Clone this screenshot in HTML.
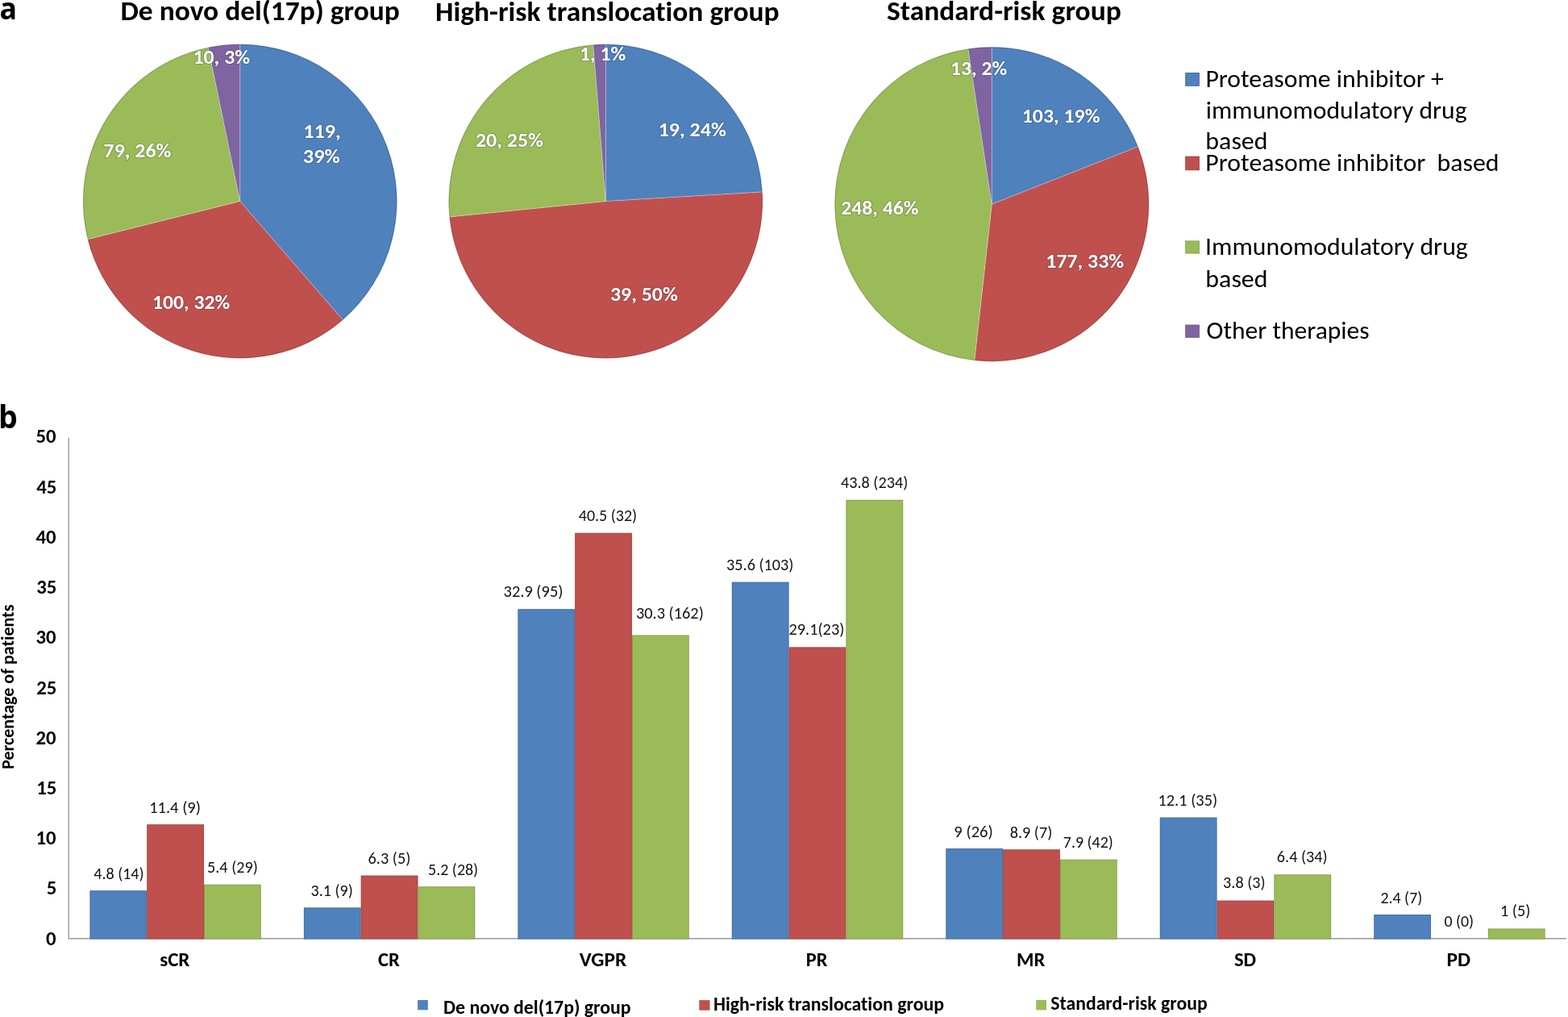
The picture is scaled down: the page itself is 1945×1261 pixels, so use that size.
<!DOCTYPE html>
<html><head><meta charset="utf-8"><title>Figure</title>
<style>
html,body{margin:0;padding:0;background:#fff;}
body{width:1945px;height:1261px;overflow:hidden;}
svg{display:block;font-family:Carlito, Calibri, "Liberation Sans", Arial, sans-serif;}
text{white-space:pre;font-variant-ligatures:none;font-feature-settings:"liga" 0,"clig" 0,"dlig" 0;}
</style></head>
<body>
<svg width="1945" height="1261" viewBox="0 0 1945 1261">
<rect width="1945" height="1261" fill="#fff"/>
<text font-family="'Open Sans', 'Liberation Sans', Arial, sans-serif" transform="translate(-0.53 24.22) scale(0.934 1)" font-size="38.23" font-weight="bold">a</text>
<text font-family="'Open Sans', 'Liberation Sans', Arial, sans-serif" transform="translate(-2.01 530.81) scale(0.966 1)" font-size="38.96" font-weight="bold">b</text>
<text transform="translate(149.45 25.15) scale(1.0613 1)" font-size="33.4" font-weight="bold" fill="#000" textLength="326.39" lengthAdjust="spacingAndGlyphs">De novo del(17p) group</text>
<text transform="translate(540.05 25.60) scale(1.0635 1)" font-size="33.4" font-weight="bold" fill="#000" textLength="401.13" lengthAdjust="spacingAndGlyphs">High-risk translocation group</text>
<text transform="translate(1099.99 24.50) scale(1.063 1)" font-size="33.4" font-weight="bold" fill="#000" textLength="273.56" lengthAdjust="spacingAndGlyphs">Standard-risk group</text>
<path d="M297.70,249.50 L297.70,54.70 A194.8,194.8 0 0 1 425.27,396.72 Z" fill="#4F81BD" stroke="#ffffff" stroke-opacity="0.28" stroke-width="0.9" stroke-linejoin="round"/>
<path d="M297.70,249.50 L425.27,396.72 A194.8,194.8 0 0 1 108.71,296.71 Z" fill="#C0504D" stroke="#ffffff" stroke-opacity="0.28" stroke-width="0.9" stroke-linejoin="round"/>
<path d="M297.70,249.50 L108.71,296.71 A194.8,194.8 0 0 1 258.24,58.74 Z" fill="#9BBB59" stroke="#ffffff" stroke-opacity="0.28" stroke-width="0.9" stroke-linejoin="round"/>
<path d="M297.70,249.50 L258.24,58.74 A194.8,194.8 0 0 1 297.70,54.70 Z" fill="#8064A2" stroke="#ffffff" stroke-opacity="0.28" stroke-width="0.9" stroke-linejoin="round"/>
<circle cx="297.7" cy="249.5" r="194.20000000000002" fill="none" stroke="#000" stroke-opacity="0.16" stroke-width="1.2"/>
<path d="M751.30,249.60 L751.30,54.80 A194.8,194.8 0 0 1 945.75,237.99 Z" fill="#4F81BD" stroke="#ffffff" stroke-opacity="0.28" stroke-width="0.9" stroke-linejoin="round"/>
<path d="M751.30,249.60 L945.75,237.99 A194.8,194.8 0 0 1 557.46,268.93 Z" fill="#C0504D" stroke="#ffffff" stroke-opacity="0.28" stroke-width="0.9" stroke-linejoin="round"/>
<path d="M751.30,249.60 L557.46,268.93 A194.8,194.8 0 0 1 735.82,55.42 Z" fill="#9BBB59" stroke="#ffffff" stroke-opacity="0.28" stroke-width="0.9" stroke-linejoin="round"/>
<path d="M751.30,249.60 L735.82,55.42 A194.8,194.8 0 0 1 751.30,54.80 Z" fill="#8064A2" stroke="#ffffff" stroke-opacity="0.28" stroke-width="0.9" stroke-linejoin="round"/>
<circle cx="751.3" cy="249.6" r="194.20000000000002" fill="none" stroke="#000" stroke-opacity="0.16" stroke-width="1.2"/>
<path d="M1230.25,253.20 L1230.25,58.20 A195.0,195.0 0 0 1 1411.73,181.86 Z" fill="#4F81BD" stroke="#ffffff" stroke-opacity="0.28" stroke-width="0.9" stroke-linejoin="round"/>
<path d="M1230.25,253.20 L1411.73,181.86 A195.0,195.0 0 0 1 1208.78,447.01 Z" fill="#C0504D" stroke="#ffffff" stroke-opacity="0.28" stroke-width="0.9" stroke-linejoin="round"/>
<path d="M1230.25,253.20 L1208.78,447.01 A195.0,195.0 0 0 1 1200.92,60.42 Z" fill="#9BBB59" stroke="#ffffff" stroke-opacity="0.28" stroke-width="0.9" stroke-linejoin="round"/>
<path d="M1230.25,253.20 L1200.92,60.42 A195.0,195.0 0 0 1 1230.25,58.20 Z" fill="#8064A2" stroke="#ffffff" stroke-opacity="0.28" stroke-width="0.9" stroke-linejoin="round"/>
<circle cx="1230.25" cy="253.2" r="194.4" fill="none" stroke="#000" stroke-opacity="0.16" stroke-width="1.2"/>
<text transform="translate(376.16 170.50) scale(1.0574 1)" font-size="24.8" font-weight="bold" fill="#fff" textLength="44.10" lengthAdjust="spacingAndGlyphs" stroke="#1e2a40" stroke-opacity="0.22" stroke-width="2.2" paint-order="stroke" stroke-linejoin="round">119,</text>
<text transform="translate(375.85 201.60) scale(1.0609 1)" font-size="24.8" font-weight="bold" fill="#fff" textLength="43.22" lengthAdjust="spacingAndGlyphs" stroke="#1e2a40" stroke-opacity="0.22" stroke-width="2.2" paint-order="stroke" stroke-linejoin="round">39%</text>
<text transform="translate(189.00 383.40) scale(1.0362 1)" font-size="24.8" font-weight="bold" fill="#fff" textLength="92.93" lengthAdjust="spacingAndGlyphs" stroke="#1e2a40" stroke-opacity="0.22" stroke-width="2.2" paint-order="stroke" stroke-linejoin="round">100, 32%</text>
<text transform="translate(128.56 194.70) scale(1.0427 1)" font-size="24.8" font-weight="bold" fill="#fff" textLength="80.36" lengthAdjust="spacingAndGlyphs" stroke="#1e2a40" stroke-opacity="0.22" stroke-width="2.2" paint-order="stroke" stroke-linejoin="round">79, 26%</text>
<text transform="translate(239.39 79.00) scale(1.0432 1)" font-size="24.8" font-weight="bold" fill="#fff" textLength="67.79" lengthAdjust="spacingAndGlyphs" stroke="#1e2a40" stroke-opacity="0.22" stroke-width="2.2" paint-order="stroke" stroke-linejoin="round">10, 3%</text>
<text transform="translate(816.68 168.50) scale(1.0475 1)" font-size="24.8" font-weight="bold" fill="#fff" textLength="80.36" lengthAdjust="spacingAndGlyphs" stroke="#1e2a40" stroke-opacity="0.22" stroke-width="2.2" paint-order="stroke" stroke-linejoin="round">19, 24%</text>
<text transform="translate(756.97 372.70) scale(1.0439 1)" font-size="24.8" font-weight="bold" fill="#fff" textLength="80.36" lengthAdjust="spacingAndGlyphs" stroke="#1e2a40" stroke-opacity="0.22" stroke-width="2.2" paint-order="stroke" stroke-linejoin="round">39, 50%</text>
<text transform="translate(589.89 181.70) scale(1.0461 1)" font-size="24.8" font-weight="bold" fill="#fff" textLength="80.36" lengthAdjust="spacingAndGlyphs" stroke="#1e2a40" stroke-opacity="0.22" stroke-width="2.2" paint-order="stroke" stroke-linejoin="round">20, 25%</text>
<text transform="translate(719.00 74.60) scale(1.0393 1)" font-size="24.8" font-weight="bold" fill="#fff" textLength="55.22" lengthAdjust="spacingAndGlyphs" stroke="#1e2a40" stroke-opacity="0.22" stroke-width="2.2" paint-order="stroke" stroke-linejoin="round">1, 1%</text>
<text transform="translate(1267.79 152.40) scale(1.0407 1)" font-size="24.8" font-weight="bold" fill="#fff" textLength="92.93" lengthAdjust="spacingAndGlyphs" stroke="#1e2a40" stroke-opacity="0.22" stroke-width="2.2" paint-order="stroke" stroke-linejoin="round">103, 19%</text>
<text transform="translate(1297.29 331.60) scale(1.0429 1)" font-size="24.8" font-weight="bold" fill="#fff" textLength="92.93" lengthAdjust="spacingAndGlyphs" stroke="#1e2a40" stroke-opacity="0.22" stroke-width="2.2" paint-order="stroke" stroke-linejoin="round">177, 33%</text>
<text transform="translate(1043.20 266.30) scale(1.0362 1)" font-size="24.8" font-weight="bold" fill="#fff" textLength="92.93" lengthAdjust="spacingAndGlyphs" stroke="#1e2a40" stroke-opacity="0.22" stroke-width="2.2" paint-order="stroke" stroke-linejoin="round">248, 46%</text>
<text transform="translate(1178.90 92.60) scale(1.0371 1)" font-size="24.8" font-weight="bold" fill="#fff" textLength="67.79" lengthAdjust="spacingAndGlyphs" stroke="#1e2a40" stroke-opacity="0.22" stroke-width="2.2" paint-order="stroke" stroke-linejoin="round">13, 2%</text>
<rect x="1470.2" y="90.0" width="17.7" height="16.9" fill="#4F81BD"/>
<rect x="1470.7" y="90.5" width="16.7" height="15.9" fill="none" stroke="#000" stroke-opacity="0.12" stroke-width="1"/>
<rect x="1470.2" y="193.7" width="17.7" height="17.5" fill="#C0504D"/>
<rect x="1470.7" y="194.2" width="16.7" height="16.5" fill="none" stroke="#000" stroke-opacity="0.12" stroke-width="1"/>
<rect x="1470.2" y="298.4" width="17.7" height="16.1" fill="#9BBB59"/>
<rect x="1470.7" y="298.9" width="16.7" height="15.1" fill="none" stroke="#000" stroke-opacity="0.12" stroke-width="1"/>
<rect x="1470.2" y="402.6" width="17.7" height="16.2" fill="#8064A2"/>
<rect x="1470.7" y="403.1" width="16.7" height="15.2" fill="none" stroke="#000" stroke-opacity="0.12" stroke-width="1"/>
<text transform="translate(1495.38 107.90) scale(1.0138 1)" font-size="31.3" font-weight="normal" fill="#000" textLength="291.34" lengthAdjust="spacingAndGlyphs">Proteasome inhibitor +</text>
<text transform="translate(1495.86 146.80) scale(1.0102 1)" font-size="31.3" font-weight="normal" fill="#000" textLength="320.40" lengthAdjust="spacingAndGlyphs">immunomodulatory drug</text>
<text transform="translate(1495.37 185.10) scale(1.0187 1)" font-size="31.3" font-weight="normal" fill="#000" textLength="75.70" lengthAdjust="spacingAndGlyphs">based</text>
<text transform="translate(1495.37 212.00) scale(1.0156 1)" font-size="31.3" font-weight="normal" fill="#000" textLength="358.53" lengthAdjust="spacingAndGlyphs">Proteasome inhibitor&#160; based</text>
<text transform="translate(1495.06 316.10) scale(1.0144 1)" font-size="31.3" font-weight="normal" fill="#000" textLength="321.10" lengthAdjust="spacingAndGlyphs">Immunomodulatory drug</text>
<text transform="translate(1495.37 355.60) scale(1.0187 1)" font-size="31.3" font-weight="normal" fill="#000" textLength="75.70" lengthAdjust="spacingAndGlyphs">based</text>
<text transform="translate(1496.50 420.20) scale(1.0086 1)" font-size="31.3" font-weight="normal" fill="#000" textLength="200.43" lengthAdjust="spacingAndGlyphs">Other therapies</text>
<line x1="85.2" y1="542.8" x2="85.2" y2="1163.8" stroke="#9a9a9a" stroke-width="1.4"/>
<line x1="84.5" y1="1163.8" x2="1942.6" y2="1163.8" stroke="#9a9a9a" stroke-width="1.4"/>
<rect x="111.40" y="1104.18" width="70.8" height="60.32" fill="#4F81BD"/>
<rect x="111.90" y="1104.68" width="69.8" height="59.32" fill="none" stroke="#000" stroke-opacity="0.13" stroke-width="1"/>
<rect x="182.20" y="1022.21" width="70.8" height="142.29" fill="#C0504D"/>
<rect x="182.70" y="1022.71" width="69.8" height="141.29" fill="none" stroke="#000" stroke-opacity="0.13" stroke-width="1"/>
<rect x="253.00" y="1096.73" width="70.8" height="67.77" fill="#9BBB59"/>
<rect x="253.50" y="1097.23" width="69.8" height="66.77" fill="none" stroke="#000" stroke-opacity="0.13" stroke-width="1"/>
<rect x="376.87" y="1125.30" width="70.8" height="39.20" fill="#4F81BD"/>
<rect x="377.37" y="1125.80" width="69.8" height="38.20" fill="none" stroke="#000" stroke-opacity="0.13" stroke-width="1"/>
<rect x="447.67" y="1085.55" width="70.8" height="78.95" fill="#C0504D"/>
<rect x="448.17" y="1086.05" width="69.8" height="77.95" fill="none" stroke="#000" stroke-opacity="0.13" stroke-width="1"/>
<rect x="518.47" y="1099.22" width="70.8" height="65.28" fill="#9BBB59"/>
<rect x="518.97" y="1099.72" width="69.8" height="64.28" fill="none" stroke="#000" stroke-opacity="0.13" stroke-width="1"/>
<rect x="642.34" y="755.18" width="70.8" height="409.32" fill="#4F81BD"/>
<rect x="642.84" y="755.68" width="69.8" height="408.32" fill="none" stroke="#000" stroke-opacity="0.13" stroke-width="1"/>
<rect x="713.14" y="660.79" width="70.8" height="503.71" fill="#C0504D"/>
<rect x="713.64" y="661.29" width="69.8" height="502.71" fill="none" stroke="#000" stroke-opacity="0.13" stroke-width="1"/>
<rect x="783.94" y="787.47" width="70.8" height="377.03" fill="#9BBB59"/>
<rect x="784.44" y="787.97" width="69.8" height="376.03" fill="none" stroke="#000" stroke-opacity="0.13" stroke-width="1"/>
<rect x="907.81" y="721.65" width="70.8" height="442.85" fill="#4F81BD"/>
<rect x="908.31" y="722.15" width="69.8" height="441.85" fill="none" stroke="#000" stroke-opacity="0.13" stroke-width="1"/>
<rect x="978.61" y="802.38" width="70.8" height="362.12" fill="#C0504D"/>
<rect x="979.11" y="802.88" width="69.8" height="361.12" fill="none" stroke="#000" stroke-opacity="0.13" stroke-width="1"/>
<rect x="1049.41" y="619.80" width="70.8" height="544.70" fill="#9BBB59"/>
<rect x="1049.91" y="620.30" width="69.8" height="543.70" fill="none" stroke="#000" stroke-opacity="0.13" stroke-width="1"/>
<rect x="1173.28" y="1052.02" width="70.8" height="112.48" fill="#4F81BD"/>
<rect x="1173.78" y="1052.52" width="69.8" height="111.48" fill="none" stroke="#000" stroke-opacity="0.13" stroke-width="1"/>
<rect x="1244.08" y="1053.26" width="70.8" height="111.24" fill="#C0504D"/>
<rect x="1244.58" y="1053.76" width="69.8" height="110.24" fill="none" stroke="#000" stroke-opacity="0.13" stroke-width="1"/>
<rect x="1314.88" y="1065.68" width="70.8" height="98.82" fill="#9BBB59"/>
<rect x="1315.38" y="1066.18" width="69.8" height="97.82" fill="none" stroke="#000" stroke-opacity="0.13" stroke-width="1"/>
<rect x="1438.75" y="1013.52" width="70.8" height="150.98" fill="#4F81BD"/>
<rect x="1439.25" y="1014.02" width="69.8" height="149.98" fill="none" stroke="#000" stroke-opacity="0.13" stroke-width="1"/>
<rect x="1509.55" y="1116.60" width="70.8" height="47.90" fill="#C0504D"/>
<rect x="1510.05" y="1117.10" width="69.8" height="46.90" fill="none" stroke="#000" stroke-opacity="0.13" stroke-width="1"/>
<rect x="1580.35" y="1084.31" width="70.8" height="80.19" fill="#9BBB59"/>
<rect x="1580.85" y="1084.81" width="69.8" height="79.19" fill="none" stroke="#000" stroke-opacity="0.13" stroke-width="1"/>
<rect x="1704.22" y="1133.99" width="70.8" height="30.51" fill="#4F81BD"/>
<rect x="1704.72" y="1134.49" width="69.8" height="29.51" fill="none" stroke="#000" stroke-opacity="0.13" stroke-width="1"/>
<rect x="1845.82" y="1151.38" width="70.8" height="13.12" fill="#9BBB59"/>
<rect x="1846.32" y="1151.88" width="69.8" height="12.12" fill="none" stroke="#000" stroke-opacity="0.13" stroke-width="1"/>
<text transform="translate(116.30 1089.60) scale(1.0101 1)" font-size="19.8" font-weight="normal" fill="#111" textLength="61.62" lengthAdjust="spacingAndGlyphs">4.8 (14)</text>
<text transform="translate(185.15 1007.50) scale(1.0358 1)" font-size="19.8" font-weight="normal" fill="#111" textLength="61.62" lengthAdjust="spacingAndGlyphs">11.4 (9)</text>
<text transform="translate(256.99 1081.60) scale(1.0202 1)" font-size="19.8" font-weight="normal" fill="#111" textLength="61.62" lengthAdjust="spacingAndGlyphs">5.4 (29)</text>
<text transform="translate(385.60 1111.20) scale(1.0101 1)" font-size="19.8" font-weight="normal" fill="#111" textLength="51.59" lengthAdjust="spacingAndGlyphs">3.1 (9)</text>
<text transform="translate(456.59 1071.00) scale(1.0223 1)" font-size="19.8" font-weight="normal" fill="#111" textLength="51.59" lengthAdjust="spacingAndGlyphs">6.3 (5)</text>
<text transform="translate(531.10 1084.60) scale(1.0067 1)" font-size="19.8" font-weight="normal" fill="#111" textLength="61.62" lengthAdjust="spacingAndGlyphs">5.2 (28)</text>
<text transform="translate(624.58 740.00) scale(1.0303 1)" font-size="19.8" font-weight="normal" fill="#111" textLength="71.66" lengthAdjust="spacingAndGlyphs">32.9 (95)</text>
<text transform="translate(717.80 645.80) scale(1.0101 1)" font-size="19.8" font-weight="normal" fill="#111" textLength="71.66" lengthAdjust="spacingAndGlyphs">40.5 (32)</text>
<text transform="translate(788.98 766.70) scale(1.0265 1)" font-size="19.8" font-weight="normal" fill="#111" textLength="81.70" lengthAdjust="spacingAndGlyphs">30.3 (162)</text>
<text transform="translate(901.09 706.70) scale(1.0202 1)" font-size="19.8" font-weight="normal" fill="#111" textLength="81.70" lengthAdjust="spacingAndGlyphs">35.6 (103)</text>
<text transform="translate(978.38 787.40) scale(1.0271 1)" font-size="19.8" font-weight="normal" fill="#111" textLength="67.18" lengthAdjust="spacingAndGlyphs">29.1(23)</text>
<text transform="translate(1043.00 605.10) scale(1.0201 1)" font-size="19.8" font-weight="normal" fill="#111" textLength="81.70" lengthAdjust="spacingAndGlyphs">43.8 (234)</text>
<text transform="translate(1183.36 1037.50) scale(1.0397 1)" font-size="19.8" font-weight="normal" fill="#111" textLength="46.59" lengthAdjust="spacingAndGlyphs">9 (26)</text>
<text transform="translate(1252.69 1039.10) scale(1.0202 1)" font-size="19.8" font-weight="normal" fill="#111" textLength="51.59" lengthAdjust="spacingAndGlyphs">8.9 (7)</text>
<text transform="translate(1318.80 1051.00) scale(1.0067 1)" font-size="19.8" font-weight="normal" fill="#111" textLength="61.62" lengthAdjust="spacingAndGlyphs">7.9 (42)</text>
<text transform="translate(1436.47 999.40) scale(1.0276 1)" font-size="19.8" font-weight="normal" fill="#111" textLength="71.66" lengthAdjust="spacingAndGlyphs">12.1 (35)</text>
<text transform="translate(1517.09 1101.20) scale(1.0182 1)" font-size="19.8" font-weight="normal" fill="#111" textLength="51.59" lengthAdjust="spacingAndGlyphs">3.8 (3)</text>
<text transform="translate(1583.79 1069.20) scale(1.0202 1)" font-size="19.8" font-weight="normal" fill="#111" textLength="61.62" lengthAdjust="spacingAndGlyphs">6.4 (34)</text>
<text transform="translate(1712.40 1119.60) scale(1.006 1)" font-size="19.8" font-weight="normal" fill="#111" textLength="51.59" lengthAdjust="spacingAndGlyphs">2.4 (7)</text>
<text transform="translate(1791.50 1149.00) scale(1.0014 1)" font-size="19.8" font-weight="normal" fill="#111" textLength="36.56" lengthAdjust="spacingAndGlyphs">0 (0)</text>
<text transform="translate(1860.97 1136.20) scale(1.0251 1)" font-size="19.8" font-weight="normal" fill="#111" textLength="36.56" lengthAdjust="spacingAndGlyphs">1 (5)</text>
<text transform="translate(198.18 1198.00) scale(1.0267 1)" font-size="24.3" font-weight="bold" fill="#000" textLength="36.24" lengthAdjust="spacingAndGlyphs">sCR</text>
<text transform="translate(469.11 1198.00) scale(1.0094 1)" font-size="24.3" font-weight="bold" fill="#000" textLength="26.54" lengthAdjust="spacingAndGlyphs">CR</text>
<text transform="translate(718.80 1198.00) scale(1.0418 1)" font-size="24.3" font-weight="bold" fill="#000" textLength="56.05" lengthAdjust="spacingAndGlyphs">VGPR</text>
<text transform="translate(999.76 1198.00) scale(1.0028 1)" font-size="24.3" font-weight="bold" fill="#000" textLength="26.61" lengthAdjust="spacingAndGlyphs">PR</text>
<text transform="translate(1260.98 1198.00) scale(1.0113 1)" font-size="24.3" font-weight="bold" fill="#000" textLength="34.92" lengthAdjust="spacingAndGlyphs">MR</text>
<text transform="translate(1530.91 1198.00) scale(1.0133 1)" font-size="24.3" font-weight="bold" fill="#000" textLength="26.80" lengthAdjust="spacingAndGlyphs">SD</text>
<text transform="translate(1794.50 1198.00) scale(1.0468 1)" font-size="24.3" font-weight="bold" fill="#000" textLength="28.25" lengthAdjust="spacingAndGlyphs">PD</text>
<text transform="translate(57.00 1171.59) scale(0.99 1)" font-size="25.0" font-weight="bold" fill="#000" textLength="12.67" lengthAdjust="spacingAndGlyphs">0</text>
<text transform="translate(57.74 1109.37) scale(0.99 1)" font-size="25.0" font-weight="bold" fill="#000" textLength="12.67" lengthAdjust="spacingAndGlyphs">5</text>
<text transform="translate(44.50 1047.16) scale(0.99 1)" font-size="25.0" font-weight="bold" fill="#000" textLength="25.34" lengthAdjust="spacingAndGlyphs">10</text>
<text transform="translate(45.24 984.94) scale(0.99 1)" font-size="25.0" font-weight="bold" fill="#000" textLength="25.34" lengthAdjust="spacingAndGlyphs">15</text>
<text transform="translate(44.50 922.73) scale(0.99 1)" font-size="25.0" font-weight="bold" fill="#000" textLength="25.34" lengthAdjust="spacingAndGlyphs">20</text>
<text transform="translate(45.24 860.51) scale(0.99 1)" font-size="25.0" font-weight="bold" fill="#000" textLength="25.34" lengthAdjust="spacingAndGlyphs">25</text>
<text transform="translate(44.50 798.30) scale(0.99 1)" font-size="25.0" font-weight="bold" fill="#000" textLength="25.34" lengthAdjust="spacingAndGlyphs">30</text>
<text transform="translate(45.24 736.08) scale(0.99 1)" font-size="25.0" font-weight="bold" fill="#000" textLength="25.34" lengthAdjust="spacingAndGlyphs">35</text>
<text transform="translate(44.50 673.87) scale(0.99 1)" font-size="25.0" font-weight="bold" fill="#000" textLength="25.34" lengthAdjust="spacingAndGlyphs">40</text>
<text transform="translate(45.24 611.65) scale(0.99 1)" font-size="25.0" font-weight="bold" fill="#000" textLength="25.34" lengthAdjust="spacingAndGlyphs">45</text>
<text transform="translate(44.50 549.44) scale(0.99 1)" font-size="25.0" font-weight="bold" fill="#000" textLength="25.34" lengthAdjust="spacingAndGlyphs">50</text>
<text transform="translate(16.9,851.7) rotate(-90) scale(1.007 1)" font-size="21.8" font-weight="bold" text-anchor="middle" textLength="202.81" lengthAdjust="spacingAndGlyphs">Percentage of patients</text>
<rect x="518.1" y="1240" width="12.7" height="12.3" fill="#4F81BD"/>
<rect x="867.3" y="1240.1" width="13.2" height="12.6" fill="#C0504D"/>
<rect x="1285.2" y="1239.9" width="12.8" height="12.5" fill="#9BBB59"/>
<text transform="translate(550.09 1256.60) scale(1.0076 1)" font-size="23.6" font-weight="bold" fill="#000" textLength="230.62" lengthAdjust="spacingAndGlyphs">De novo del(17p) group</text>
<text transform="translate(884.89 1252.70) scale(1.0095 1)" font-size="23.6" font-weight="bold" fill="#000" textLength="283.43" lengthAdjust="spacingAndGlyphs">High-risk translocation group</text>
<text transform="translate(1303.23 1252.10) scale(1.0057 1)" font-size="23.6" font-weight="bold" fill="#000" textLength="193.30" lengthAdjust="spacingAndGlyphs">Standard-risk group</text>
</svg>
</body></html>
